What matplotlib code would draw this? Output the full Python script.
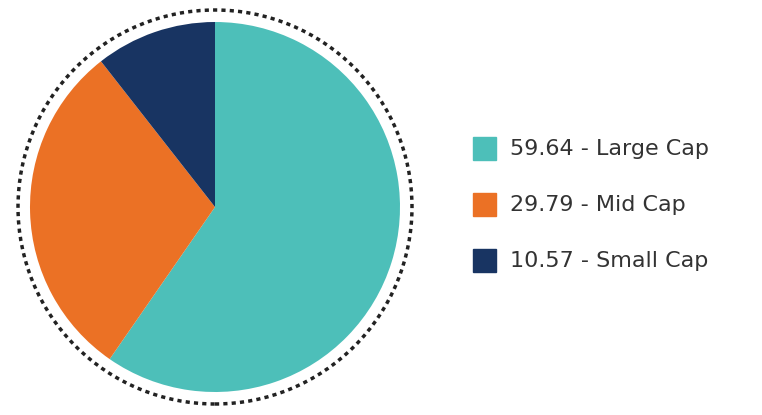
import matplotlib
matplotlib.use("Agg")
import matplotlib.pyplot as plt
from matplotlib.patches import Circle, Rectangle

labels = ["Large Cap", "Mid Cap", "Small Cap"]
values = [59.64, 29.79, 10.57]
colors = ["#4DBFB9", "#EB7125", "#183462"]

W, H = 762, 415
fig = plt.figure(figsize=(W/100, H/100), dpi=100)
ax = fig.add_axes([15/W, 8/H, 400/W, 400/H])
ax.pie(values, colors=colors, startangle=90, counterclock=False, radius=1.0)
lim = 200/185
ax.set_xlim(-lim, lim); ax.set_ylim(-lim, lim)
ax.set_aspect("equal")
ax.add_patch(Circle((0, 0), 197/185, fill=False, ls=(0, (1.2, 1.2)), lw=2.5, ec="#222222"))
ax.axis("off")

lax = fig.add_axes([0, 0, 1, 1]); lax.set_xlim(0, W); lax.set_ylim(H, 0); lax.axis("off")
for i, (l, v, c) in enumerate(zip(labels, values, colors)):
    y = 148 + 56*i
    lax.add_patch(Rectangle((473, y-11), 23, 23, color=c))
    lax.text(510, y+1, f"{v:.2f} - {l}", fontsize=16, color="#333333", va="center", ha="left")

fig.savefig("out.png", dpi=100)
